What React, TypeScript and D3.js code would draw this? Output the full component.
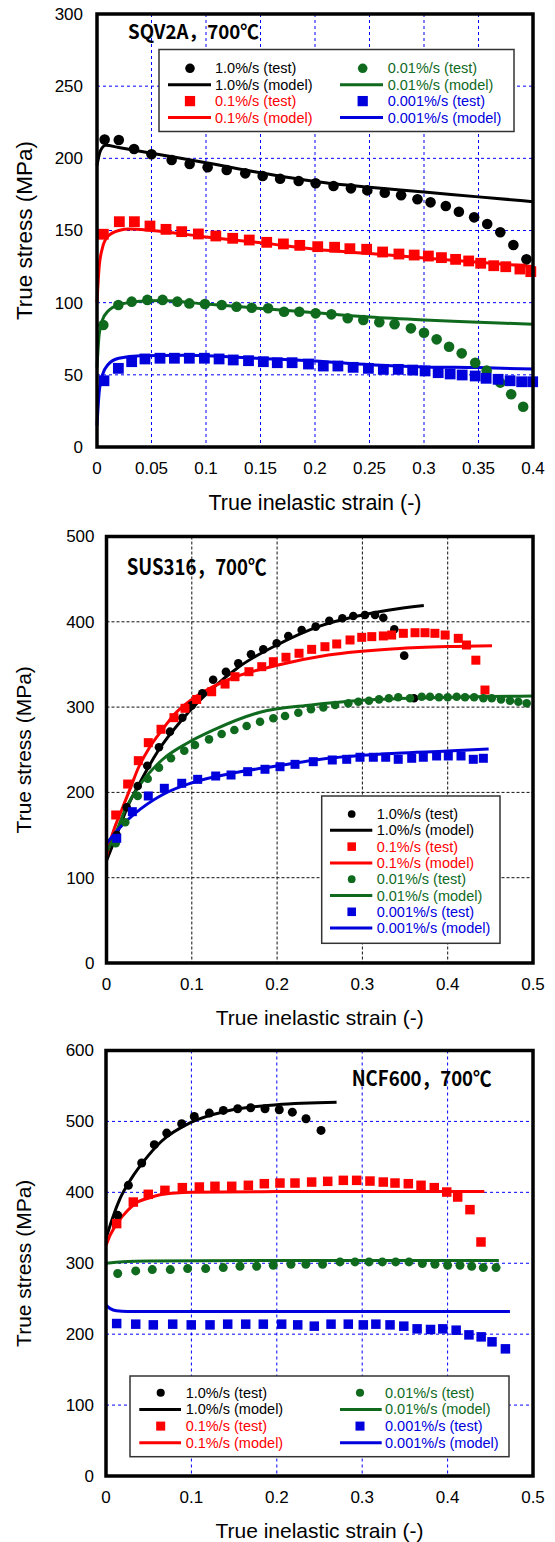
import React from 'react';
import * as d3 from 'd3';

type Pt = [number, number];

const RATE_LABELS = ['1.0%/s', '0.1%/s', '0.01%/s', '0.001%/s'];
const RATE_COLORS = ['#000000', '#ff0000', '#0f6a1e', '#0000dd'];
const RATE_SHAPES = ['circle', 'square', 'circle', 'square'];

const Y_TITLE = 'True stress (MPa)';
const X_TITLE = 'True inelastic strain (-)';

// SQV2A, 700C
const sqvTest10: Pt[] = [[0.007, 213], [0.02, 212.7], [0.034, 206.5], [0.05, 202.8], [0.0685, 198.8], [0.085, 196.1], [0.1015, 193.8], [0.119, 191.9], [0.136, 189.6], [0.152, 187.8], [0.168, 185.9], [0.185, 184.3], [0.2006, 182.7], [0.217, 180.8], [0.233, 179.2], [0.248, 177.8], [0.264, 176.2], [0.279, 174.4], [0.294, 171.6], [0.306, 169.5], [0.32, 167], [0.332, 163], [0.346, 159.1], [0.358, 154.5], [0.37, 148.8], [0.382, 140], [0.394, 130]];
const sqvModel10: Pt[] = [[0, 195], [0.003, 205], [0.008, 209], [0.02, 207.5], [0.05, 203.5], [0.1, 197], [0.15, 190], [0.2, 184], [0.25, 180], [0.3, 176.7], [0.35, 173.3], [0.4, 170]];
const sqvTest01: Pt[] = [[0.0058, 147.4], [0.0205, 156.1], [0.0343, 156.1], [0.0486, 153.1], [0.0633, 150.8], [0.0777, 149.2], [0.093, 147.6], [0.109, 146.2], [0.1245, 144.6], [0.1397, 143.4], [0.1557, 141.8], [0.171, 140.7], [0.186, 139.7], [0.2025, 138.8], [0.218, 138.4], [0.232, 137.4], [0.2474, 137], [0.262, 135.1], [0.277, 133.7], [0.291, 133], [0.304, 132.3], [0.316, 131.2], [0.329, 130], [0.341, 128.9], [0.352, 127.3], [0.364, 125.6], [0.375, 124.9], [0.388, 123.3], [0.398, 121.5]];
const sqvModel01: Pt[] = [[0, 100], [0.002, 125], [0.005, 138], [0.01, 146], [0.02, 150], [0.03, 151], [0.05, 150], [0.1, 145.5], [0.15, 141.5], [0.2, 137], [0.25, 134], [0.3, 131], [0.35, 128], [0.4, 125]];
const sqvTest001: Pt[] = [[0.0058, 84.5], [0.0196, 98.4], [0.0318, 100.7], [0.0462, 101.9], [0.0602, 101.9], [0.0737, 100.7], [0.0847, 99.5], [0.099, 99.1], [0.1144, 98.4], [0.128, 97.2], [0.142, 96.5], [0.157, 96.1], [0.1716, 93.7], [0.1856, 93.7], [0.2006, 92.6], [0.215, 91.9], [0.23, 89.2], [0.2443, 88], [0.259, 86.4], [0.273, 85], [0.288, 82.2], [0.3, 79.2], [0.3116, 74.6], [0.323, 69.5], [0.3346, 64.9], [0.347, 58.4], [0.3575, 52.9], [0.37, 44.6], [0.38, 36.5], [0.391, 27.9]];
const sqvModel001: Pt[] = [[0, 55], [0.002, 78], [0.005, 88], [0.01, 94], [0.02, 98.5], [0.04, 101], [0.06, 101.5], [0.1, 99], [0.15, 96], [0.2, 93], [0.25, 90], [0.3, 88], [0.35, 86.5], [0.4, 85]];
const sqvTest0001: Pt[] = [[0.0064, 45.9], [0.0196, 54.5], [0.0318, 59.1], [0.044, 61], [0.0578, 61.5], [0.071, 61.5], [0.0847, 61.5], [0.0985, 61.5], [0.112, 61], [0.125, 60.3], [0.139, 59.8], [0.1526, 59.1], [0.1654, 58.4], [0.179, 58.4], [0.194, 57.5], [0.2076, 56.1], [0.221, 56.1], [0.235, 55.2], [0.249, 54.5], [0.2627, 53.8], [0.2764, 53.8], [0.2896, 53.3], [0.301, 52.7], [0.313, 51.5], [0.324, 50.6], [0.335, 49.9], [0.347, 49.2], [0.357, 47.6], [0.368, 46.9], [0.379, 45.9], [0.3896, 45.2], [0.3997, 45.2]];
const sqvModel0001: Pt[] = [[0, 15], [0.002, 38], [0.005, 50], [0.01, 57], [0.02, 61.5], [0.04, 63.3], [0.08, 63.5], [0.12, 62.5], [0.16, 61], [0.2, 59.5], [0.25, 57], [0.3, 55.5], [0.35, 55], [0.4, 54]];

// SUS316, 700C
const susTest10: Pt[] = [[0.012, 150], [0.0237, 182.5], [0.0366, 207.5], [0.0478, 231.3], [0.0615, 252.9], [0.0744, 271.2], [0.0889, 287.6], [0.1, 302], [0.1123, 316.2], [0.125, 332], [0.14, 341.5], [0.1545, 351.3], [0.1694, 361.9], [0.1838, 367.7], [0.1995, 374.8], [0.2131, 383.4], [0.2288, 390.4], [0.2452, 394.3], [0.2612, 401.3], [0.2765, 404.1], [0.2893, 406.8], [0.303, 408], [0.3148, 408], [0.3245, 404.8], [0.3374, 391.2], [0.349, 360.3], [0.3605, 310.3]];
const susModel10: Pt[] = [[0, 120], [0.01, 145], [0.025, 184], [0.04, 213], [0.06, 248], [0.09, 287], [0.12, 318], [0.155, 347], [0.2, 373], [0.25, 395], [0.3, 408], [0.33, 413.5], [0.372, 419]];
const susTest01: Pt[] = [[0.0108, 173.5], [0.0248, 209.8], [0.0373, 237.2], [0.049, 258.3], [0.0639, 274], [0.0791, 287.6], [0.092, 298.6], [0.1057, 309], [0.1233, 318], [0.139, 327], [0.1506, 335.6], [0.167, 341.5], [0.182, 347.4], [0.1956, 353.2], [0.2104, 358.4], [0.2257, 363.1], [0.2405, 367.7], [0.2561, 370.8], [0.2699, 374], [0.2855, 378.7], [0.2992, 381.8], [0.311, 382.6], [0.3245, 383.4], [0.3343, 384.5], [0.348, 386.5], [0.3617, 387.2], [0.3734, 387.2], [0.385, 386.5], [0.397, 384.5], [0.4124, 380.6], [0.422, 372.8], [0.433, 355], [0.4437, 320]];
const susModel01: Pt[] = [[0, 125], [0.005, 145], [0.01, 160], [0.018, 180], [0.028, 205], [0.037, 228], [0.05, 252], [0.065, 273], [0.08, 292], [0.1, 309], [0.125, 324], [0.15, 335], [0.2, 349], [0.26, 361], [0.34, 368.5], [0.4, 371], [0.452, 372]];
const susTest001: Pt[] = [[0.0108, 140.3], [0.022, 165], [0.0366, 195.8], [0.0483, 216], [0.0615, 229], [0.0756, 240], [0.0912, 248.9], [0.1037, 255.6], [0.1202, 262.2], [0.135, 268.5], [0.1499, 273.2], [0.1643, 277.8], [0.18, 282.9], [0.1956, 286.9], [0.2093, 289.6], [0.2249, 293.4], [0.2397, 297.4], [0.2542, 299.7], [0.268, 302.5], [0.2835, 304.5], [0.2952, 306.3], [0.3077, 307.5], [0.3195, 309.1], [0.331, 310.3], [0.342, 311.5], [0.3558, 310.3], [0.3695, 312.2], [0.3793, 312.2], [0.3898, 311.5], [0.4, 311.5], [0.4105, 312.2], [0.4203, 311.5], [0.431, 311.5], [0.4418, 310.3], [0.4516, 310.3], [0.4625, 309.1], [0.473, 307.5], [0.4828, 306.3], [0.4926, 304.5]];
const susModel001: Pt[] = [[0, 130], [0.01, 150], [0.022, 180], [0.04, 210], [0.065, 238], [0.095, 258], [0.125, 273], [0.18, 294], [0.24, 302.5], [0.3, 308], [0.4, 311.5], [0.5, 313]];
const susTest0001: Pt[] = [[0.012, 146.2], [0.0303, 177.4], [0.049, 195.8], [0.0678, 204.8], [0.0882, 210.7], [0.1069, 215.3], [0.128, 219.2], [0.146, 220.4], [0.1655, 224.3], [0.1858, 227.1], [0.2034, 230.1], [0.221, 232.9], [0.2424, 236], [0.2647, 238], [0.2816, 238.8], [0.2972, 241.2], [0.3128, 241.2], [0.3273, 241.2], [0.342, 238.8], [0.3578, 240], [0.3714, 241.2], [0.387, 242.7], [0.4007, 242.7], [0.4156, 242.7], [0.43, 238.8], [0.4418, 240]];
const susModel0001: Pt[] = [[0, 140], [0.015, 158], [0.033, 175], [0.065, 197], [0.104, 212.5], [0.15, 223], [0.2, 231], [0.26, 240], [0.34, 246], [0.4, 248.5], [0.448, 251]];

// NCF600, 700C
const ncfTest10: Pt[] = [[0.0137, 367.6], [0.0262, 409.9], [0.0418, 441.3], [0.0566, 467.2], [0.0711, 483.5], [0.0886, 496.7], [0.1034, 507], [0.121, 511.7], [0.1374, 515.5], [0.1542, 517.9], [0.1694, 519.3], [0.1862, 517.9], [0.2029, 516.5], [0.2182, 513.1], [0.2342, 503.8], [0.2518, 487.3]];
const ncfModel10: Pt[] = [[0, 335], [0.008, 365], [0.016, 390], [0.03, 420], [0.045, 445], [0.065, 472], [0.1, 499], [0.143, 515], [0.2, 523.5], [0.27, 527]];
const ncfTest01: Pt[] = [[0.0125, 355.9], [0.032, 386.3], [0.0495, 397.2], [0.069, 402.8], [0.0894, 406.6], [0.1093, 407.5], [0.1276, 408.5], [0.1472, 408.5], [0.1667, 409.9], [0.1854, 412.2], [0.2037, 413.1], [0.2213, 413.1], [0.2408, 414.5], [0.2596, 415.5], [0.2779, 416.9], [0.2935, 416.9], [0.3091, 415.9], [0.3247, 414.5], [0.3384, 413.1], [0.354, 412.2], [0.3689, 409.9], [0.3844, 406.6], [0.399, 400.4], [0.4118, 393.4], [0.4262, 375.6], [0.4391, 330]];
const ncfModel01: Pt[] = [[0, 325], [0.005, 340], [0.014, 358], [0.025, 374], [0.034, 384], [0.05, 392], [0.065, 397], [0.1, 400], [0.2, 401], [0.3, 401], [0.443, 401]];
const ncfTest001: Pt[] = [[0.0137, 285.5], [0.0348, 289.2], [0.0542, 291.1], [0.0753, 291.1], [0.0956, 292.5], [0.1167, 292.5], [0.1373, 293.9], [0.1569, 295.8], [0.1764, 295.8], [0.1959, 297.2], [0.2166, 298.6], [0.234, 298.6], [0.2536, 298.6], [0.274, 301.9], [0.2916, 301.9], [0.308, 301.9], [0.3236, 301.9], [0.3392, 301.9], [0.3548, 301.9], [0.3704, 299.5], [0.3852, 298.6], [0.4, 297.2], [0.4145, 297.2], [0.4282, 295.8], [0.4418, 293.9], [0.4567, 293.9]];
const ncfModel001: Pt[] = [[0, 300], [0.02, 302], [0.05, 303], [0.2, 304], [0.46, 304]];
const ncfTest0001: Pt[] = [[0.0125, 215], [0.0348, 214.1], [0.0554, 213.1], [0.0781, 214.1], [0.0998, 213.1], [0.1218, 213.1], [0.1425, 214.1], [0.1636, 214.1], [0.1842, 214.1], [0.2057, 214.1], [0.2245, 213.1], [0.2439, 211.3], [0.2635, 214.1], [0.2837, 214.1], [0.3013, 213.1], [0.316, 214.1], [0.3326, 213.1], [0.3487, 211.3], [0.3643, 207.5], [0.38, 206.6], [0.3944, 207.5], [0.41, 205.6], [0.425, 199], [0.4393, 196.2], [0.452, 189.2], [0.4677, 179.3]];
const ncfModel0001: Pt[] = [[0, 241], [0.005, 236], [0.012, 233], [0.025, 232], [0.473, 232]];

interface LegendCol { l1: number; l2: number; mx: number; tx: number }
interface PanelCfg {
  title: string; titleX: number; titleY: number; titleSize: number; titleW: number;
  tests: Pt[][]; models: Pt[][];
  xMax: number; yMax: number; xCount: number; yCount: number;
  left: number; right: number; top: number; bottom: number;
  grid: string; dash: string; r: number; sq: number; yLabGap: number;
  xTitleSize: number; yTitleSize: number;
  legend: { x: number; y: number; w: number; h: number; row0: number; pitch: number; twoCol: boolean; cols: LegendCol[] };
}

const PANELS: PanelCfg[] = [
  {
    title: 'SQV2A，700℃', titleX: 128, titleY: 39, titleSize: 19.5, titleW: 131,
    tests: [sqvTest10, sqvTest01, sqvTest001, sqvTest0001],
    models: [sqvModel10, sqvModel01, sqvModel001, sqvModel0001],
    xMax: 0.4, yMax: 300, xCount: 8, yCount: 6,
    left: 97, right: 533, top: 14, bottom: 447,
    grid: '#0000ff', dash: '3,3', r: 5.3, sq: 10.8, yLabGap: 14,
    xTitleSize: 21.5, yTitleSize: 22.5,
    legend: {
      x: 159, y: 49.5, w: 355, h: 82, row0: 68.3, pitch: 16.4, twoCol: true,
      cols: [{ l1: 168, l2: 211, mx: 190, tx: 215 }, { l1: 340, l2: 383, mx: 362.7, tx: 387.7 }],
    },
  },
  {
    title: 'SUS316，700℃', titleX: 126.7, titleY: 575, titleSize: 22, titleW: 140,
    tests: [susTest10, susTest01, susTest001, susTest0001],
    models: [susModel10, susModel01, susModel001, susModel0001],
    xMax: 0.5, yMax: 500, xCount: 5, yCount: 5,
    left: 106.5, right: 533, top: 536.5, bottom: 963,
    grid: '#111111', dash: '3,2', r: 4.3, sq: 9, yLabGap: 12,
    xTitleSize: 21, yTitleSize: 21,
    legend: {
      x: 321.7, y: 796, w: 178.3, h: 147.3, row0: 814, pitch: 16.3, twoCol: false,
      cols: [{ l1: 330, l2: 372.3, mx: 351.7, tx: 376.7 }],
    },
  },
  {
    title: 'NCF600，700℃', titleX: 351.7, titleY: 1085.5, titleSize: 21, titleW: 140,
    tests: [ncfTest10, ncfTest01, ncfTest001, ncfTest0001],
    models: [ncfModel10, ncfModel01, ncfModel001, ncfModel0001],
    xMax: 0.5, yMax: 600, xCount: 5, yCount: 6,
    left: 106, right: 533, top: 1050.5, bottom: 1476,
    grid: '#0000ff', dash: '3,3', r: 4.5, sq: 9.5, yLabGap: 12,
    xTitleSize: 21, yTitleSize: 21,
    legend: {
      x: 130, y: 1376, w: 379, h: 80.7, row0: 1392.7, pitch: 16.7, twoCol: true,
      cols: [{ l1: 139.3, l2: 181, mx: 160.7, tx: 185.7 }, { l1: 340, l2: 381.7, mx: 360, tx: 385 }],
    },
  },
];

const FONT = '"Liberation Sans", Arial, sans-serif';

function Marker({ shape, cx, cy, r, sq, color }: { shape: string; cx: number; cy: number; r: number; sq: number; color: string }) {
  if (shape === 'circle') return <circle cx={cx} cy={cy} r={r} fill={color} />;
  return <rect x={cx - sq / 2} y={cy - sq / 2} width={sq} height={sq} fill={color} />;
}

function Legend({ p }: { p: PanelCfg }) {
  const L = p.legend;
  return (
    <g>
      <rect x={L.x} y={L.y} width={L.w} height={L.h} fill="#fff" stroke="#333" strokeWidth={1.5} />
      {RATE_LABELS.map((lab, i) => {
        const col = L.cols[L.twoCol ? Math.floor(i / 2) : 0];
        const row = L.twoCol ? (i % 2) * 2 : i * 2;
        const yT = L.row0 + row * L.pitch;
        const yM = yT + L.pitch;
        const c = RATE_COLORS[i];
        return (
          <g key={lab}>
            <Marker shape={RATE_SHAPES[i]} cx={col.mx} cy={yT} r={p.r * 0.9} sq={p.sq * 0.95} color={c} />
            <text x={col.tx} y={yT} dy="0.35em" fill={c} fontSize={14.5} fontFamily={FONT}>{`${lab} (test)`}</text>
            <line x1={col.l1} x2={col.l2} y1={yM} y2={yM} stroke={c} strokeWidth={3} />
            <text x={col.tx} y={yM} dy="0.35em" fill={c} fontSize={14.5} fontFamily={FONT}>{`${lab} (model)`}</text>
          </g>
        );
      })}
    </g>
  );
}

function Panel({ p }: { p: PanelCfg }) {
  const x = d3.scaleLinear().domain([0, p.xMax]).range([p.left, p.right]);
  const y = d3.scaleLinear().domain([0, p.yMax]).range([p.bottom, p.top]);
  const line = d3.line<Pt>().x(d => x(d[0])).y(d => y(d[1])).curve(d3.curveMonotoneX);
  const xTicks = x.ticks(p.xCount);
  const yTicks = y.ticks(p.yCount);
  const fmtX = (v: number) => String(+v.toFixed(2));
  const midY = (p.top + p.bottom) / 2;
  const midX = (p.left + p.right) / 2;

  return (
    <g>
      {xTicks.slice(1, -1).map(t => (
        <line key={'gx' + t} x1={x(t)} x2={x(t)} y1={p.top} y2={p.bottom} stroke={p.grid} strokeWidth={1} strokeDasharray={p.dash} />
      ))}
      {yTicks.slice(1, -1).map(t => (
        <line key={'gy' + t} x1={p.left} x2={p.right} y1={y(t)} y2={y(t)} stroke={p.grid} strokeWidth={1} strokeDasharray={p.dash} />
      ))}

      <Legend p={p} />

      {p.models.map((m, i) => (
        <path key={'m' + i} d={line(m) || ''} fill="none" stroke={RATE_COLORS[i]} strokeWidth={3} />
      ))}
      {p.tests.map((s, i) => (
        <g key={'t' + i}>
          {s.map((d, j) => (
            <Marker key={j} shape={RATE_SHAPES[i]} cx={x(d[0])} cy={y(d[1])} r={p.r} sq={p.sq} color={RATE_COLORS[i]} />
          ))}
        </g>
      ))}

      <rect x={p.left} y={p.top} width={p.right - p.left} height={p.bottom - p.top} fill="none" stroke="#000" strokeWidth={3.5} />

      {xTicks.map(t => (
        <text key={'xl' + t} x={x(t)} y={p.bottom + 27} textAnchor="middle" fontSize={17} fontFamily={FONT}>{fmtX(t)}</text>
      ))}
      {yTicks.map(t => (
        <text key={'yl' + t} x={p.left - p.yLabGap} y={y(t)} dy="0.35em" textAnchor="end" fontSize={17} fontFamily={FONT}>{t}</text>
      ))}

      <text x={midX} y={p.bottom + 55} dy="0.35em" textAnchor="middle" fontSize={p.xTitleSize} fontFamily={FONT}>{X_TITLE}</text>
      <text transform={`translate(24,${midY}) rotate(-90)`} dy="0.35em" textAnchor="middle" fontSize={p.yTitleSize} fontFamily={FONT}>{Y_TITLE}</text>

      <text x={p.titleX} y={p.titleY} fontSize={p.titleSize} fontWeight={700} fontFamily='"Noto Sans CJK JP", sans-serif'
        textLength={p.titleW} lengthAdjust="spacingAndGlyphs">{p.title}</text>
    </g>
  );
}

export default function App() {
  return (
    <svg width={555} height={1542} style={{ position: 'absolute', left: 0, top: 0, background: '#fff' }}>
      {PANELS.map(p => <Panel key={p.title} p={p} />)}
    </svg>
  );
}
